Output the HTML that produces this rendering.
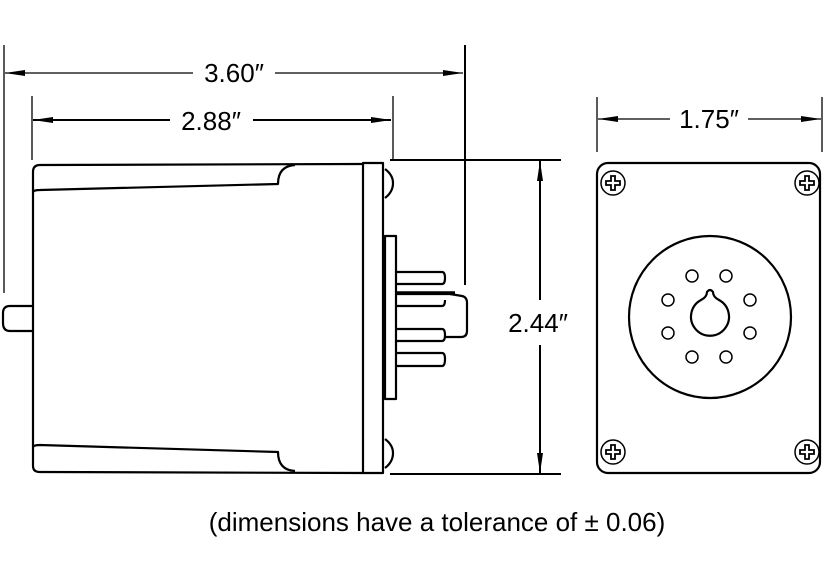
<!DOCTYPE html>
<html><head><style>html,body{margin:0;padding:0;background:#fff}svg{display:block}text{font-family:"Liberation Sans",sans-serif;fill:#000}</style></head><body>
<svg width="824" height="583" viewBox="0 0 824 583" xmlns="http://www.w3.org/2000/svg">
<defs>
<marker id="a" viewBox="0 0 20 8" refX="20" refY="4" markerWidth="20" markerHeight="8" markerUnits="userSpaceOnUse" orient="auto-start-reverse"><path d="M0,1 L20,4 L0,7 Z" fill="#000"/></marker>
<g id="s" stroke="#000" fill="none" stroke-width="1.5"><circle cx="0" cy="0" r="12"/><path d="M-2,-7 h4 v5 h5 v4 h-5 v5 h-4 v-5 h-5 v-4 h5 z" stroke-width="1.8"/></g>
</defs>
<g stroke="#000" fill="none" stroke-width="1.3">
<line x1="4" y1="45" x2="4" y2="293"/>
<line x1="465" y1="45" x2="465" y2="285" stroke-width="2"/>
<line x1="5" y1="73" x2="193" y2="73" marker-start="url(#a)"/>
<line x1="275" y1="73" x2="463" y2="73" marker-end="url(#a)"/>
<line x1="32" y1="96" x2="32" y2="160"/>
<line x1="393" y1="96" x2="393" y2="160"/>
<line x1="33" y1="120" x2="170" y2="120" marker-start="url(#a)" stroke-width="2"/>
<line x1="253" y1="120" x2="391" y2="120" marker-end="url(#a)" stroke-width="2"/>
<line x1="597" y1="97" x2="597" y2="152"/>
<line x1="822" y1="97" x2="822" y2="152"/>
<line x1="598" y1="119" x2="670" y2="119" marker-start="url(#a)"/>
<line x1="748" y1="119" x2="821" y2="119" marker-end="url(#a)"/>
<line x1="390" y1="160" x2="561" y2="160" stroke-width="2"/>
<line x1="390" y1="474" x2="561" y2="474" stroke-width="2"/>
<line x1="540" y1="161" x2="540" y2="300" marker-start="url(#a)" stroke-width="2"/>
<line x1="540" y1="345" x2="540" y2="473" marker-end="url(#a)" stroke-width="2"/>
</g>
<g stroke="#000" fill="none" stroke-width="2.2" stroke-linejoin="round">
<path d="M363,164 L40,165 Q33,165 33,172 L33,466 Q33,472 40,472 L363,473"/>
<path d="M33,192 Q34,190 40,190 L278,184 Q278,166 295,165"/>
<path d="M33,447 Q34,445 40,445 L278,452 Q278,470 295,471"/>
<path d="M32,306 L10,306 Q3,306 3,313 L3,323 Q3,331 10,331 L32,331"/>
<rect x="363" y="163" width="20" height="310"/>
<path d="M385,169 Q393,175 393,183 Q393,192 385,198"/>
<path d="M385,439 Q393,445 393,453 Q393,462 385,468"/>
<rect x="385" y="236" width="11" height="163"/>
<path d="M396,272 L442,272 Q445,272 445,278 Q445,284 442,284 L396,284"/>
<path d="M396,294 L452,294 M396,306 L442,306 Q445,306 445,300"/>
<path d="M396,329 L442,329 Q445,329 445,335 Q445,341 442,341 L396,341"/>
<path d="M396,353 L442,353 Q445,353 445,359 Q445,366 442,366 L396,366"/>
<path d="M450,294 L462,296 Q467,297 467,303 L467,331 Q467,337 461,337 L445,337"/>
<line x1="396" y1="293" x2="455" y2="293" stroke-width="3.5"/>
<rect x="597" y="163" width="223" height="310" rx="11"/>
<circle cx="710" cy="317" r="81"/>
<path d="M701,300 Q707,297 707,292 Q710,288 713,292 Q713,297 719,300 A19,19 0 1 1 701,300 Z"/>
</g>
<g stroke="#000" fill="none" stroke-width="1.5">
<circle cx="692" cy="276" r="6"/><circle cx="726" cy="276" r="6"/>
<circle cx="668" cy="300" r="6"/><circle cx="750" cy="300" r="6"/>
<circle cx="668" cy="333" r="6"/><circle cx="750" cy="333" r="6"/>
<circle cx="692" cy="357" r="6"/><circle cx="726" cy="357" r="6"/>
</g>
<use href="#s" x="613" y="183"/><use href="#s" x="807" y="183"/>
<use href="#s" x="613" y="452"/><use href="#s" x="807" y="452"/>
<g font-size="26">
<text x="234" y="82" text-anchor="middle">3.60″</text>
<text x="211" y="130" text-anchor="middle">2.88″</text>
<text x="709" y="128" text-anchor="middle">1.75″</text>
<text x="538" y="332" text-anchor="middle">2.44″</text>
<text x="437" y="531" text-anchor="middle" font-size="26">(dimensions have a tolerance of ± 0.06)</text>
</g>
</svg>
</body></html>
